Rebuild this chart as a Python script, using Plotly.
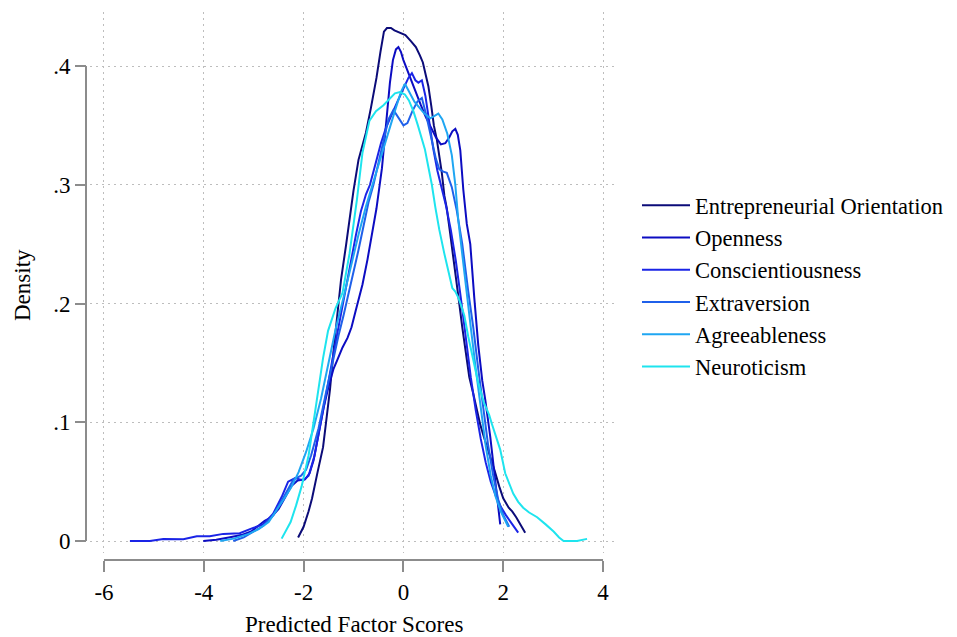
import plotly.graph_objects as go

# ---- data (x = predicted factor score, y = density) ----
series_names = ["Entrepreneurial Orientation", "Openness", "Conscientiousness",
                "Extraversion", "Agreeableness", "Neuroticism"]
series_colors = ["#0b0b78", "#0c0cc2", "#1a24e6", "#1f60ea", "#1fa6f2", "#1ee4ee"]

eo = [(-2.11,0.003),(-2.0,0.012),(-1.9,0.025),(-1.83,0.036),(-1.72,0.058),(-1.61,0.079),
      (-1.55,0.100),(-1.47,0.128),(-1.40,0.160),(-1.33,0.190),(-1.25,0.220),(-1.15,0.249),
      (-1.08,0.272),(-1.00,0.295),(-0.90,0.321),(-0.80,0.337),(-0.75,0.344),(-0.65,0.365),
      (-0.54,0.390),(-0.46,0.412),(-0.39,0.429),(-0.33,0.432),(-0.25,0.432),(-0.18,0.430),
      (-0.05,0.428),(0.04,0.426),(0.15,0.421),(0.25,0.416),(0.33,0.409),(0.39,0.403),
      (0.45,0.392),(0.50,0.383),(0.56,0.366),(0.61,0.350),(0.67,0.338),(0.72,0.324),
      (0.77,0.310),(0.82,0.291),(0.87,0.280),(0.94,0.258),(1.04,0.228),(1.11,0.203),
      (1.18,0.180),(1.25,0.157),(1.32,0.138),(1.40,0.124),(1.47,0.110),(1.54,0.098),
      (1.61,0.088),(1.68,0.079),(1.76,0.068),(1.83,0.059),(1.92,0.046),(2.00,0.036),
      (2.11,0.028),(2.18,0.025),(2.26,0.020),(2.35,0.013),(2.44,0.007)]

openness = [(-4.01,0.000),(-3.75,0.001),(-3.50,0.003),(-3.25,0.005),(-3.05,0.008),(-2.90,0.013),
            (-2.78,0.017),(-2.65,0.020),(-2.50,0.027),(-2.38,0.036),(-2.25,0.046),(-2.12,0.051),
            (-1.97,0.052),(-1.88,0.057),(-1.80,0.068),(-1.70,0.090),(-1.60,0.112),(-1.50,0.130),
            (-1.40,0.145),(-1.33,0.152),(-1.22,0.163),(-1.12,0.171),(-1.04,0.180),(-0.95,0.195),
            (-0.82,0.216),(-0.72,0.237),(-0.65,0.255),(-0.54,0.280),(-0.43,0.314),(-0.37,0.340),
            (-0.32,0.360),(-0.27,0.386),(-0.21,0.405),(-0.15,0.414),(-0.10,0.416),(-0.05,0.412),
            (0.00,0.405),(0.08,0.396),(0.15,0.388),(0.25,0.378),(0.35,0.367),(0.45,0.357),
            (0.55,0.348),(0.65,0.340),(0.75,0.334),(0.84,0.335),(0.92,0.340),(0.98,0.345),
            (1.04,0.347),(1.09,0.342),(1.14,0.329),(1.20,0.296),(1.27,0.267),(1.34,0.250),
            (1.42,0.205),(1.50,0.165),(1.58,0.135),(1.64,0.119),(1.74,0.088),(1.84,0.051),
            (1.94,0.014)]

conscientiousness = [(-5.48,0.000),(-5.08,0.000),(-4.81,0.0017),(-4.41,0.0014),(-4.14,0.004),
            (-3.88,0.004),(-3.61,0.006),(-3.28,0.0065),(-3.01,0.011),(-2.81,0.014),(-2.61,0.023),
            (-2.44,0.037),(-2.31,0.050),(-2.17,0.053),(-2.01,0.051),(-1.90,0.055),(-1.78,0.072),
            (-1.65,0.100),(-1.52,0.130),(-1.40,0.158),(-1.28,0.185),(-1.16,0.210),(-1.05,0.235),
            (-0.95,0.258),(-0.85,0.278),(-0.75,0.292),(-0.67,0.300),(-0.55,0.320),(-0.45,0.335),
            (-0.35,0.348),(-0.25,0.358),(-0.12,0.370),(0.00,0.381),(0.10,0.390),(0.17,0.394),
            (0.24,0.388),(0.30,0.386),(0.37,0.388),(0.44,0.375),(0.52,0.352),(0.60,0.330),
            (0.68,0.312),(0.76,0.298),(0.85,0.283),(0.95,0.262),(1.05,0.236),(1.15,0.205),
            (1.25,0.170),(1.35,0.138),(1.45,0.110),(1.55,0.086),(1.65,0.066),(1.75,0.050),
            (1.85,0.038),(1.95,0.029),(2.05,0.022),(2.15,0.016),(2.22,0.011),(2.30,0.007)]

extraversion = [(-3.41,0.000),(-3.20,0.003),(-3.00,0.008),(-2.80,0.013),(-2.60,0.022),(-2.45,0.033),
            (-2.30,0.045),(-2.20,0.052),(-2.05,0.055),(-1.95,0.060),(-1.85,0.072),(-1.70,0.095),
            (-1.55,0.125),(-1.40,0.155),(-1.30,0.173),(-1.20,0.190),(-1.10,0.208),(-1.00,0.225),
            (-0.90,0.245),(-0.80,0.265),(-0.70,0.285),(-0.60,0.300),(-0.50,0.318),(-0.40,0.338),
            (-0.30,0.355),(-0.20,0.363),(-0.10,0.357),(0.00,0.350),(0.08,0.352),(0.18,0.362),
            (0.28,0.370),(0.37,0.373),(0.45,0.360),(0.55,0.340),(0.65,0.322),(0.72,0.313),
            (0.80,0.311),(0.87,0.310),(0.97,0.298),(1.07,0.278),(1.18,0.250),(1.30,0.210),
            (1.40,0.180),(1.50,0.145),(1.60,0.110),(1.70,0.080),(1.80,0.055),(1.90,0.035),
            (2.00,0.022),(2.12,0.012)]

agreeableness = [(-3.67,0.000),(-3.40,0.002),(-3.10,0.006),(-2.90,0.010),(-2.70,0.016),(-2.55,0.025),
            (-2.40,0.035),(-2.25,0.045),(-2.10,0.058),(-1.95,0.075),(-1.80,0.095),(-1.65,0.120),
            (-1.50,0.150),(-1.35,0.180),(-1.20,0.205),(-1.05,0.232),(-0.90,0.258),(-0.75,0.282),
            (-0.60,0.303),(-0.45,0.325),(-0.30,0.345),(-0.15,0.365),(-0.05,0.378),(0.03,0.385),
            (0.12,0.378),(0.22,0.370),(0.32,0.365),(0.42,0.360),(0.54,0.356),(0.62,0.358),
            (0.70,0.360),(0.78,0.355),(0.88,0.343),(0.97,0.325),(1.04,0.300),(1.10,0.270),
            (1.18,0.240),(1.27,0.210),(1.35,0.180),(1.45,0.145),(1.55,0.110),(1.65,0.080),
            (1.75,0.055),(1.85,0.037),(1.95,0.025),(2.05,0.016),(2.10,0.012)]

neuroticism = [(-2.44,0.002),(-2.26,0.016),(-2.15,0.030),(-2.04,0.046),(-1.90,0.072),(-1.76,0.111),
            (-1.61,0.154),(-1.51,0.177),(-1.36,0.196),(-1.22,0.209),(-1.08,0.242),(-0.93,0.288),
            (-0.82,0.327),(-0.68,0.354),(-0.55,0.362),(-0.40,0.367),(-0.25,0.374),(-0.17,0.377),
            (-0.07,0.378),(0.03,0.376),(0.11,0.371),(0.20,0.362),(0.29,0.350),(0.36,0.340),
            (0.43,0.330),(0.50,0.315),(0.57,0.300),(0.64,0.281),(0.72,0.262),(0.82,0.242),
            (0.92,0.222),(0.98,0.213),(1.04,0.210),(1.10,0.205),(1.16,0.198),(1.22,0.190),
            (1.30,0.172),(1.40,0.152),(1.50,0.133),(1.61,0.117),(1.72,0.106),(1.77,0.099),
            (1.85,0.088),(1.94,0.077),(2.04,0.057),(2.12,0.048),(2.20,0.040),(2.30,0.033),
            (2.40,0.028),(2.52,0.024),(2.68,0.020),(2.85,0.014),(3.01,0.008),(3.12,0.003),
            (3.21,0.000),(3.35,0.000),(3.48,0.000),(3.68,0.0018)]

series_data = [eo, openness, conscientiousness, extraversion, agreeableness, neuroticism]

x_tickvals = [-6, -4, -2, 0, 2, 4]
x_ticktext = ["-6", "-4", "-2", "0", "2", "4"]
y_tickvals = [0, 0.1, 0.2, 0.3, 0.4]
y_ticktext = ["0", ".1", ".2", ".3", ".4"]

FONT = "Liberation Serif, Times New Roman, serif"
FS = 23
LEG_FS = 22.5
AXIS_GRAY = "#8c8c8c"
GRID_GRAY = "#bdbdbd"

# The page body has an 8px margin, so the figure is drawn 8px in from the window corner.
OFF = 8
W, H = 957 - OFF, 637 - OFF
# target page pixels: paper spans x 86..618, y 12..560
PX0, PX1, PY0, PY1 = 86, 618, 12, 560
ML, MT = PX0 - OFF, PY0 - OFF
MR, MB = W - (PX1 - OFF), H - (PY1 - OFF)
pw = PX1 - PX0
ph = PY1 - PY0
xdom0 = 4 / pw
ydom0 = 7 / ph

def px(xp):   # page x -> paper fraction
    return (xp - PX0) / pw

def py(yp):   # page y -> paper fraction
    return (PY1 - yp) / ph

fig = go.Figure()
for name, col, pts in zip(series_names, series_colors, series_data):
    fig.add_trace(go.Scatter(
        x=[p[0] for p in pts], y=[p[1] for p in pts], mode="lines", name=name,
        line=dict(color=col, width=2)))

fig.update_layout(
    width=W, height=H,
    margin=dict(l=ML, r=MR, t=MT, b=MB, pad=0, autoexpand=False),
    paper_bgcolor="white", plot_bgcolor="white",
    font=dict(family=FONT, size=FS, color="black"),
    showlegend=True,
    legend=dict(x=px(637), xanchor="left", y=py(286), yanchor="middle",
                font=dict(family=FONT, size=LEG_FS, color="black"),
                itemwidth=48, bgcolor="rgba(0,0,0,0)", tracegroupgap=0),
    xaxis=dict(domain=[xdom0, 1], range=[-6.28, 4.30], anchor="free", position=0,
               tickvals=x_tickvals, ticktext=x_ticktext,
               ticks="outside", ticklen=11, tickwidth=2, tickcolor=AXIS_GRAY,
               showline=False, zeroline=False, automargin=False,
               showgrid=True, gridcolor=GRID_GRAY, griddash="2px,4px", gridwidth=1.2),
    yaxis=dict(domain=[ydom0, 1], range=[-0.0101, 0.4455], anchor="free", position=0,
               tickvals=y_tickvals, ticktext=y_ticktext,
               ticks="outside", ticklen=11, tickwidth=2, tickcolor=AXIS_GRAY,
               showline=False, zeroline=False, automargin=False,
               showgrid=True, gridcolor=GRID_GRAY, griddash="2px,4px", gridwidth=1.2),
    shapes=[
        dict(type="line", xref="paper", yref="y", x0=0, x1=0, y0=0, y1=0.4,
             line=dict(color=AXIS_GRAY, width=2)),
        dict(type="line", xref="x", yref="paper", x0=-6, x1=4, y0=0, y1=0,
             line=dict(color=AXIS_GRAY, width=2)),
    ],
    annotations=[
        dict(text="Density", xref="paper", yref="paper",
             x=px(22), y=py(285), xanchor="center", yanchor="middle",
             textangle=-90, showarrow=False, font=dict(family=FONT, size=FS)),
        dict(text="Predicted Factor Scores", xref="paper", yref="paper",
             x=px(354), y=py(624), xanchor="center", yanchor="middle",
             showarrow=False, font=dict(family=FONT, size=FS)),
    ],
)

fig.write_html("out.html")
